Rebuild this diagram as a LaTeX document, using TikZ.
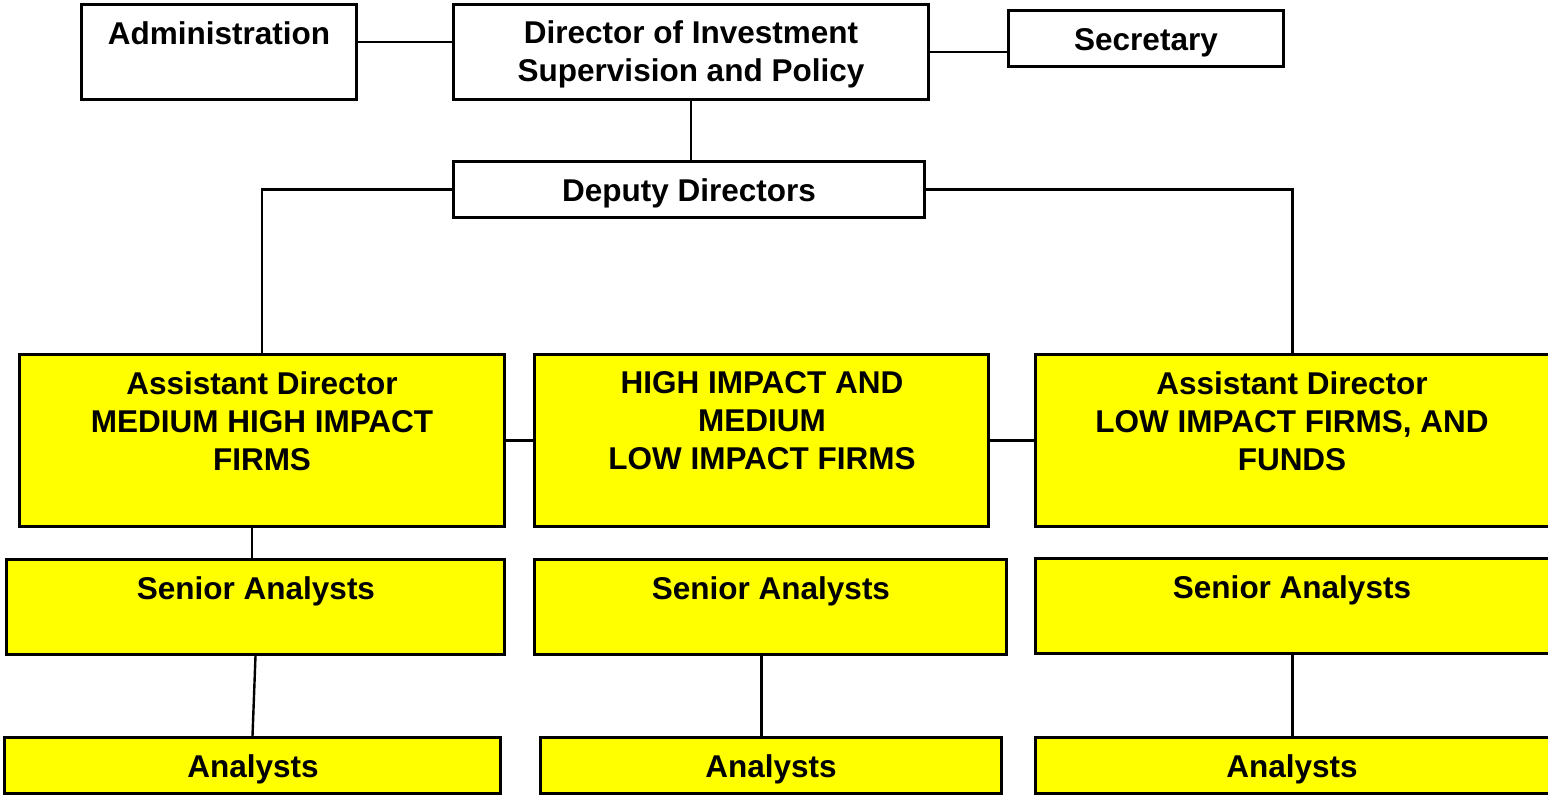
\documentclass[tikz,border=0pt]{standalone}
\usepackage{fontspec}
\setmainfont{Liberation Sans}
\definecolor{boxyellow}{RGB}{255,255,0}
\tikzset{
  box/.style={draw=black, line width=3pt, rectangle, inner sep=0pt},
  ybox/.style={box, fill=boxyellow},
  wbox/.style={box, fill=white},
  txt/.style={font=\bfseries\fontsize{31.5}{38}\selectfont, align=center, inner sep=0pt, anchor=north, text=black},
  conn/.style={draw=black, line width=2.4pt},
}
\begin{document}
\begin{tikzpicture}[x=1pt,y=-1pt]
\useasboundingbox (0,0) rectangle (1548,797);
\clip (0,0) rectangle (1548,797);
% boxes
\node[wbox, minimum width=275, minimum height=95] (adm) at (219,52) {};
\node[wbox, minimum width=475, minimum height=95] (dir) at (691,52) {};
\node[wbox, minimum width=275, minimum height=56] (sec) at (1146,38.5) {};
\node[wbox, minimum width=471, minimum height=56] (dep) at (689,189.5) {};
\node[ybox, minimum width=485, minimum height=172] (adl) at (262,440.5) {};
\node[ybox, minimum width=454, minimum height=172] (mid) at (761.5,440.5) {};
\node[ybox, minimum width=514, minimum height=172] (adr) at (1292.5,440.5) {};
\node[ybox, minimum width=498, minimum height=95] (sl) at (255.5,607) {};
\node[ybox, minimum width=472, minimum height=95] (sm) at (770.5,607) {};
\node[ybox, minimum width=514, minimum height=95] (sr) at (1292.5,606) {};
\node[ybox, minimum width=496, minimum height=56] (al) at (252.5,765.5) {};
\node[ybox, minimum width=461, minimum height=56] (am) at (771,765.5) {};
\node[ybox, minimum width=514, minimum height=56] (ar) at (1292.5,765.5) {};
% texts
\node[txt] (admT) at (219,21.5) {Administration};
\node[txt] (dirT) at (691,20.5) {Director of Investment\\Supervision and Policy};
\node[txt] (secT) at (1146,28.5) {Secretary};
\node[txt] (depT) at (689,178.5) {Deputy Directors};
\node[txt] (adlT) at (262,371.5) {Assistant Director\\MEDIUM HIGH IMPACT\\FIRMS};
\node[txt] (midT) at (762,371.5) {HIGH IMPACT AND\\MEDIUM\\LOW IMPACT FIRMS};
\node[txt] (adrT) at (1292,371.5) {Assistant Director\\LOW IMPACT FIRMS, AND\\FUNDS};
\node[txt] (slT) at (256,576.5) {Senior Analysts};
\node[txt] (smT) at (771,576.5) {Senior Analysts};
\node[txt] (srT) at (1292,575.5) {Senior Analysts};
\node[txt] (alT) at (253,754.5) {Analysts};
\node[txt] (amT) at (771,754.5) {Analysts};
\node[txt] (arT) at (1292,754.5) {Analysts};
% connectors
\draw[conn] ([yshift=10pt]adm.east) -- ([yshift=10pt]adm.east -| dir.west);
\draw[conn] (dir.east) -- (dir.east -| sec.west);
\draw[conn] (dir.south) -- (dir.south |- dep.north);
\draw[conn] (dep.west) -| (adl.north);
\draw[conn] (dep.east) -| (adr.north);
\draw[conn] (adl.east) -- (mid.west);
\draw[conn] (mid.east) -- (adr.west);
\draw[conn] ([xshift=-10pt]adl.south) -- ([xshift=-10pt]adl.south |- sl.north);
\draw[conn] (sl.south) -- (al.north);
\draw[conn] (sm.south -| mid.center) -- (am.north -| mid.center);
\draw[conn] (sr.south) -- (ar.north);
\end{tikzpicture}
\end{document}
